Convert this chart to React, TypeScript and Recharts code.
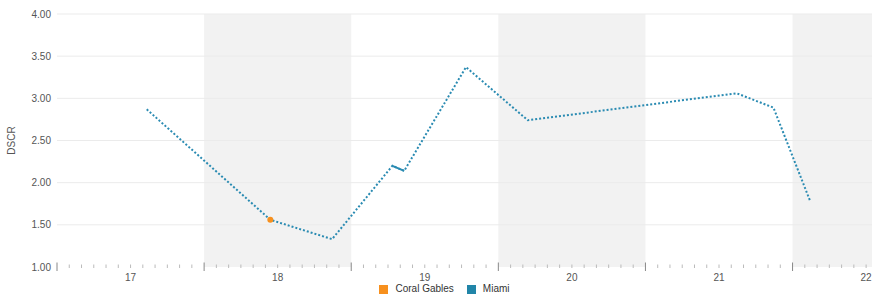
import React from 'react';
import {
  ComposedChart,
  Line,
  XAxis,
  YAxis,
  ReferenceArea,
  ReferenceLine,
} from 'recharts';

// Miami DSCR readings (x = year offset, 17 = 2017)
const miamiX = [17.11, 17.95, 18.37, 18.78, 18.86, 19.28, 19.7, 21.12, 21.37, 21.62];
const miamiY = [2.87, 1.56, 1.33, 2.2, 2.14, 3.37, 2.74, 3.06, 2.89, 1.78];

// short solid piece of the Miami line
const solidX = [18.78, 18.86];
const solidY = [2.2, 2.14];

const coralX = [17.95];
const coralY = [1.56];

const yearLabels = [17, 18, 19, 20, 21, 22];
const yTicks = [1, 1.5, 2, 2.5, 3, 3.5, 4];
const bandStarts = [17.5, 19.5, 21.5];

const legendItems = [
  { name: 'Coral Gables', color: '#f7901e' },
  { name: 'Miami', color: '#2185a8' },
];

const MIAMI = '#2a8bb2';
const CORAL = '#f7901e';

const miamiData = miamiX.map((x, i) => ({ x, y: miamiY[i] }));
const solidData = solidX.map((x, i) => ({ x, y: solidY[i] }));
const coralData = coralX.map((x, i) => ({ x, y: coralY[i] }));

// monthly ticks from 16.5 up to the last year label
const xTicks: number[] = [];
for (let i = 0; 16.5 + i / 12 <= yearLabels[yearLabels.length - 1] + 1e-6; i++) {
  xTicks.push(16.5 + i / 12);
}

const near = (v: number) => Math.abs(v - Math.round(v)) < 1e-6;

const XTick = (props: any) => {
  const { x, y, payload } = props;
  const v = payload.value;
  const major = near(v - 0.5);
  const label = near(v) && yearLabels.includes(Math.round(v));
  return (
    <g>
      <line
        x1={x}
        x2={x}
        y1={major ? y - 4.5 : y - 2.5}
        y2={major ? y + 4 : y + 1}
        stroke={major ? '#888' : '#bbb'}
        strokeWidth={1}
      />
      {label && (
        <text x={x} y={y + 14} textAnchor="middle" fontSize={10} fill="#555">
          {Math.round(v)}
        </text>
      )}
    </g>
  );
};

const YTick = (props: any) => {
  const { x, y, payload } = props;
  return (
    <text x={x} y={y + 3.5} textAnchor="end" fontSize={10} fill="#555">
      {payload.value.toFixed(2)}
    </text>
  );
};

export default function App() {
  return (
    <div
      style={{
        position: 'absolute',
        left: 0,
        top: 0,
        width: 872,
        height: 297,
        background: '#fff',
        fontFamily: '"Liberation Sans", Arial, sans-serif',
      }}
    >
      <ComposedChart
        width={872}
        height={297}
        margin={{ top: 14, right: 0, bottom: 0, left: 0 }}
      >
        {bandStarts.map((b) => (
          <ReferenceArea
            key={b}
            x1={b}
            x2={b + 1}
            y1={1}
            y2={4}
            fill="#f2f2f2"
            fillOpacity={1}
            stroke="none"
            ifOverflow="hidden"
          />
        ))}
        {yTicks.slice(1).map((t) => (
          <ReferenceLine key={t} y={t} stroke="#ebebeb" strokeWidth={1} />
        ))}
        <XAxis
          type="number"
          dataKey="x"
          domain={[16.5, 22.04]}
          ticks={xTicks}
          interval={0}
          allowDataOverflow
          axisLine={false}
          tickLine={false}
          tickSize={0}
          tickMargin={0}
          height={30}
          tick={<XTick />}
        />
        <YAxis
          type="number"
          dataKey="y"
          domain={[1, 4]}
          ticks={yTicks}
          interval={0}
          axisLine={false}
          tickLine={false}
          tickSize={0}
          tickMargin={6}
          width={57}
          tick={<YTick />}
          label={{
            value: 'DSCR',
            angle: -90,
            position: 'insideLeft',
            offset: 11,
            style: { fontSize: 10, fill: '#555', textAnchor: 'middle' },
          }}
        />
        <Line
          data={miamiData}
          dataKey="y"
          type="linear"
          stroke={MIAMI}
          strokeWidth={2}
          strokeDasharray="2 2"
          dot={false}
          activeDot={false}
          isAnimationActive={false}
        />
        <Line
          data={solidData}
          dataKey="y"
          type="linear"
          stroke={MIAMI}
          strokeWidth={2}
          dot={false}
          activeDot={false}
          isAnimationActive={false}
        />
        <Line
          data={coralData}
          dataKey="y"
          type="linear"
          stroke={CORAL}
          dot={{ r: 3, fill: CORAL, stroke: CORAL, strokeWidth: 0 }}
          activeDot={false}
          isAnimationActive={false}
        />
      </ComposedChart>
      <div
        style={{
          position: 'absolute',
          top: 283,
          left: 0,
          width: 872,
          display: 'flex',
          justifyContent: 'center',
          fontSize: 10,
          lineHeight: '12px',
          color: '#333',
        }}
      >
        <div style={{ display: 'flex', marginLeft: 30 }}>
          {legendItems.map((it) => (
            <div
              key={it.name}
              style={{ display: 'flex', alignItems: 'center', marginRight: 13 }}
            >
              <span
                style={{
                  display: 'inline-block',
                  width: 9,
                  height: 9,
                  background: it.color,
                  marginRight: 7,
                }}
              />
              <span>{it.name}</span>
            </div>
          ))}
        </div>
      </div>
    </div>
  );
}
